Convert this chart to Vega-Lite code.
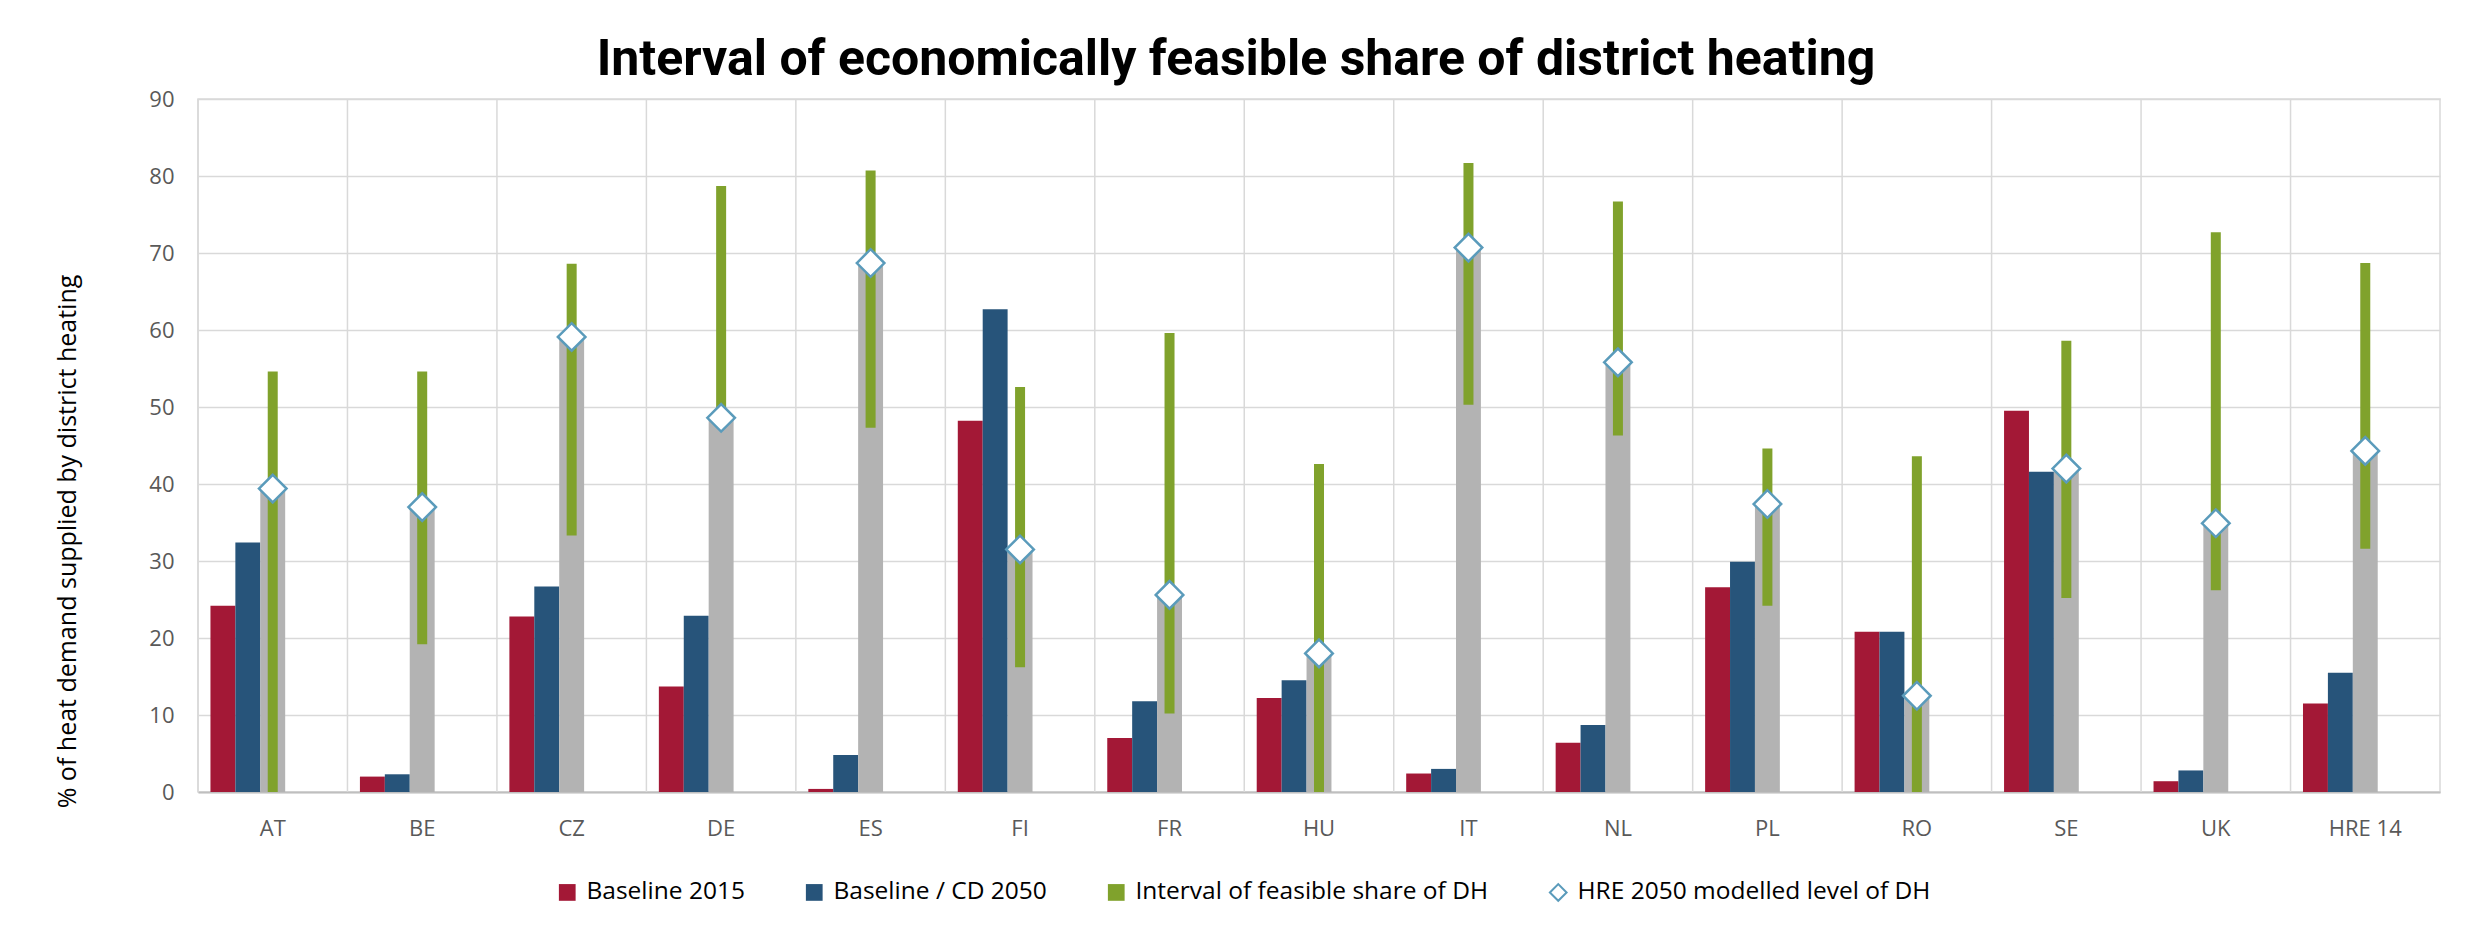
{
  "$schema": "https://vega.github.io/schema/vega-lite/v6.json",
  "width": 2242,
  "height": 693,
  "autosize": {"type": "none"},
  "padding": {"left": 198, "top": 99, "right": 33, "bottom": 142},
  "background": "white",
  "title": {
    "text": "Interval of economically feasible share of district heating",
    "font": "Roboto, sans-serif",
    "fontSize": 50,
    "fontWeight": "bold",
    "color": "#000000",
    "anchor": "middle",
    "dx": -83,
    "offset": 3
  },
  "config": {
    "view": {"stroke": "#d9d9d9", "strokeWidth": 1.5},
    "axis": {"labelFont": "Open Sans", "titleFont": "Open Sans"}
  },
  "data": {
    "values": [
      {"country": "AT", "b2015": 24.2, "cd2050": 32.4, "lo": 0, "hi": 54.6, "hre": 39.4},
      {"country": "BE", "b2015": 2.0, "cd2050": 2.3, "lo": 19.2, "hi": 54.6, "hre": 37.0},
      {"country": "CZ", "b2015": 22.8, "cd2050": 26.7, "lo": 33.3, "hi": 68.6, "hre": 59.1},
      {"country": "DE", "b2015": 13.7, "cd2050": 22.9, "lo": 48.7, "hi": 78.7, "hre": 48.6},
      {"country": "ES", "b2015": 0.4, "cd2050": 4.8, "lo": 47.3, "hi": 80.7, "hre": 68.7},
      {"country": "FI", "b2015": 48.2, "cd2050": 62.7, "lo": 16.2, "hi": 52.6, "hre": 31.5},
      {"country": "FR", "b2015": 7.0, "cd2050": 11.8, "lo": 10.2, "hi": 59.6, "hre": 25.6},
      {"country": "HU", "b2015": 12.2, "cd2050": 14.5, "lo": 0, "hi": 42.6, "hre": 18.0},
      {"country": "IT", "b2015": 2.4, "cd2050": 3.0, "lo": 50.3, "hi": 81.7, "hre": 70.7},
      {"country": "NL", "b2015": 6.4, "cd2050": 8.7, "lo": 46.3, "hi": 76.7, "hre": 55.8},
      {"country": "PL", "b2015": 26.6, "cd2050": 29.9, "lo": 24.2, "hi": 44.6, "hre": 37.4},
      {"country": "RO", "b2015": 20.8, "cd2050": 20.8, "lo": 0, "hi": 43.6, "hre": 12.5},
      {"country": "SE", "b2015": 49.5, "cd2050": 41.6, "lo": 25.2, "hi": 58.6, "hre": 42.0},
      {"country": "UK", "b2015": 1.4, "cd2050": 2.8, "lo": 26.2, "hi": 72.7, "hre": 34.9},
      {"country": "HRE 14", "b2015": 11.5, "cd2050": 15.5, "lo": 31.6, "hi": 68.7, "hre": 44.3}
    ]
  },
  "encoding": {
    "x": {
      "field": "country",
      "type": "nominal",
      "sort": null,
      "scale": {"paddingInner": 0, "paddingOuter": 0},
      "axis": {
        "title": null,
        "labelAngle": 0,
        "labelFontSize": 22,
        "labelColor": "#595959",
        "labelPadding": 26,
        "ticks": false,
        "grid": false,
        "domainColor": "#bfbfbf",
        "domainWidth": 2
      }
    }
  },
  "layer": [
    {
      "mark": {"type": "rule", "stroke": "#d9d9d9", "strokeWidth": 1.5},
      "encoding": {
        "x": {"field": "country", "type": "nominal", "sort": null, "bandPosition": 0}
      }
    },
    {
      "mark": {"type": "bar"},
      "encoding": {
        "xOffset": {"datum": "Baseline 2015", "scale": {"domain": ["Baseline 2015", "Baseline / CD 2050", "HRE", "s4", "s5"], "paddingInner": 0, "paddingOuter": 0.5}},
        "y": {
          "field": "b2015",
          "type": "quantitative",
          "scale": {"domain": [0, 90], "nice": false},
          "axis": {
            "values": [0, 10, 20, 30, 40, 50, 60, 70, 80, 90],
            "title": "% of heat demand supplied by district heating",
            "titleFontSize": 25,
            "titleFontWeight": "normal",
            "titleColor": "#000000",
            "titleAngle": 270,
            "titleX": -131,
            "titleY": 442,
            "titleAlign": "center",
            "titleBaseline": "middle",
            "labelFontSize": 22,
            "labelColor": "#595959",
            "labelPadding": 24,
            "ticks": false,
            "domain": false,
            "gridColor": "#d9d9d9",
            "gridWidth": 1.5
          }
        },
        "color": {
          "datum": "Baseline 2015",
          "scale": {
            "domain": ["Baseline 2015", "Baseline / CD 2050", "Interval of feasible share of DH", "HRE 2050 modelled level of DH"],
            "range": ["#A31836", "#27547A", "#80A22C", "#ffffff"]
          },
          "legend": {
            "title": null,
            "orient": "none",
            "direction": "horizontal",
            "legendX": 357,
            "legendY": 781,
            "labelFont": "Open Sans",
            "labelFontSize": 24.5,
            "labelColor": "#000000",
            "labelLimit": 0,
            "labelOffset": 7,
            "columnPadding": 56,
            "symbolSize": 280,
            "symbolType": "square",
            "symbolStrokeWidth": 2,
            "encode": {
              "symbols": {
                "update": {
                  "shape": {"signal": "datum.value === 'HRE 2050 modelled level of DH' ? 'diamond' : 'square'"},
                  "stroke": {"signal": "datum.value === 'HRE 2050 modelled level of DH' ? '#5A9BBB' : 'transparent'"},
                  "fillOpacity": {"value": 1}
                }
              }
            }
          }
        }
      }
    },
    {
      "mark": {"type": "bar"},
      "encoding": {
        "xOffset": {"datum": "Baseline / CD 2050"},
        "y": {"field": "cd2050", "type": "quantitative"},
        "color": {"datum": "Baseline / CD 2050"}
      }
    },
    {
      "mark": {"type": "bar", "color": "#B3B3B3"},
      "encoding": {
        "xOffset": {"datum": "HRE"},
        "y": {"field": "hre", "type": "quantitative"}
      }
    },
    {
      "mark": {"type": "bar", "width": 10},
      "encoding": {
        "xOffset": {"datum": "HRE"},
        "y": {"field": "lo", "type": "quantitative"},
        "y2": {"field": "hi"},
        "color": {"datum": "Interval of feasible share of DH"}
      }
    },
    {
      "mark": {"type": "point", "shape": "diamond", "filled": true, "stroke": "#5A9BBB", "fillOpacity": 1, "opacity": 1, "size": 760, "strokeWidth": 2.5},
      "encoding": {
        "xOffset": {"datum": "HRE"},
        "y": {"field": "hre", "type": "quantitative"},
        "color": {"datum": "HRE 2050 modelled level of DH"}
      }
    }
  ]
}
